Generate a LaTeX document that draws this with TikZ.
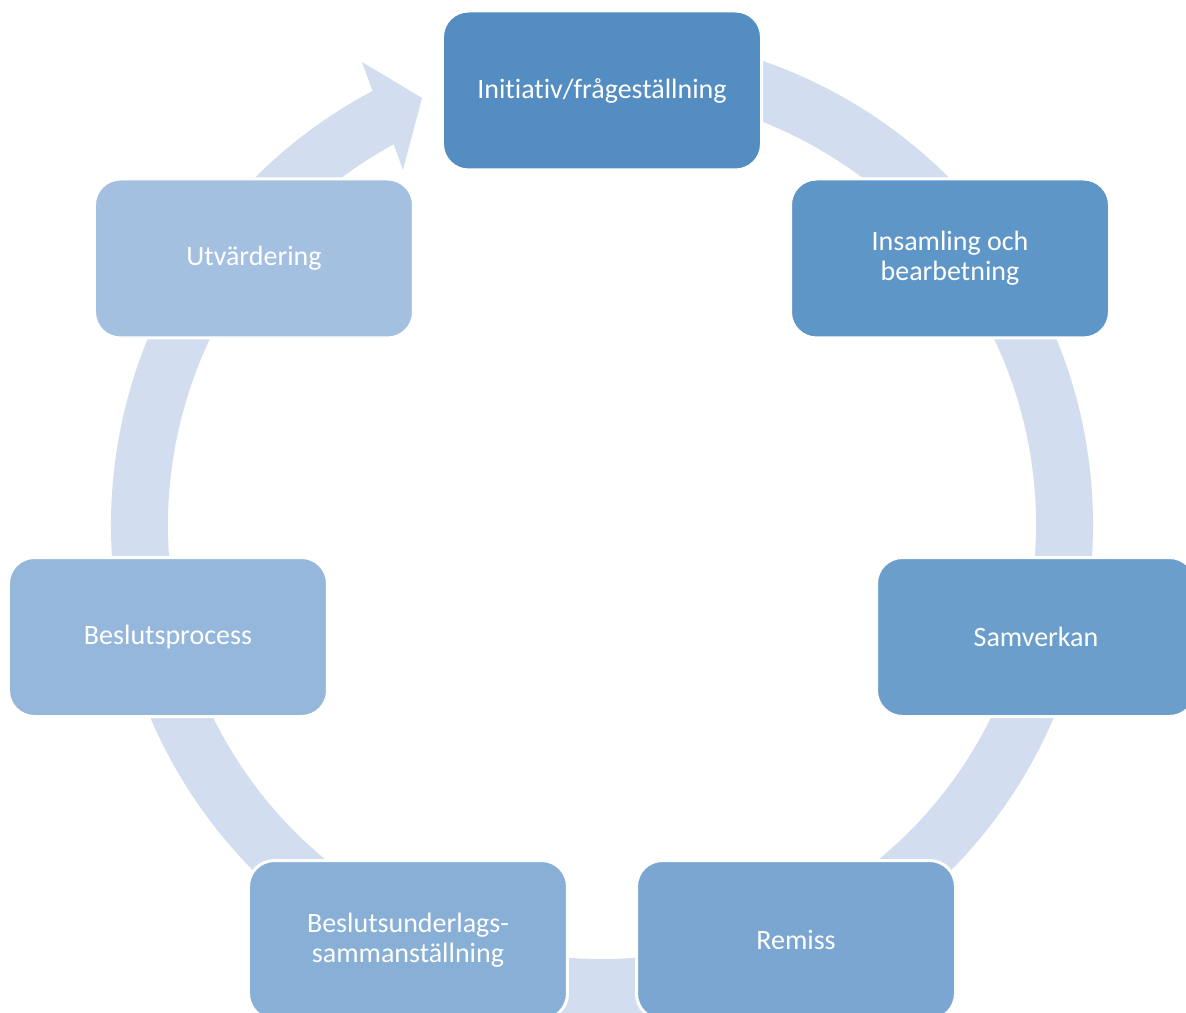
\documentclass[tikz,border=0pt]{standalone}
\usepackage{fontspec}
\setmainfont[Ligatures=CommonOff]{Carlito}
\usepackage{xcolor}
\usepackage{tikz}
\definecolor{ringblue}{RGB}{210,222,239}
\definecolor{phasea}{RGB}{83,141,194}
\definecolor{phaseb}{RGB}{95,150,200}
\definecolor{phasec}{RGB}{108,158,204}
\definecolor{phased}{RGB}{122,166,209}
\definecolor{phasee}{RGB}{136,175,214}
\definecolor{phasef}{RGB}{149,183,219}
\definecolor{phaseg}{RGB}{163,192,225}
\tikzset{%
  phasebox/.style={rectangle,rounded corners=26pt,draw=white,line width=3pt,minimum width=319pt,minimum height=159pt,text=white,align=center,font=\fontsize{28}{30}\selectfont}
}

\begin{document}
\begin{tikzpicture}[x=1pt,y=1pt]
        \path[use as bounding box,clip] (-602,-487) rectangle (584,525);
        % the ring and its arrow head
        \fill[ringblue] (85:491) arc[start angle=85,end angle=-242.13,radius=491]
          -- (-240,463) -- (-180,427) -- (-199,355) -- (-241.32:434)
          arc[start angle=-241.32,end angle=85,radius=434] -- cycle;

        \node[phasebox,fill=phasea](init) at (0,434.5){Initiativ/frågeställning};
        \node[phasebox,fill=phaseb](insaml) at (348,266.5){Insamling och\\bearbetning};
        \node[phasebox,fill=phasec](samverk) at (434,-112){Samverkan};
        \node[phasebox,fill=phased](remiss) at (194,-415){Remiss};
        \node[phasebox,fill=phasee](underlag) at (-194,-415){Beslutsunderlags-\\sammanställning};
        \node[phasebox,fill=phasef](beslut) at (-434,-112){Beslutsprocess};
        \node[phasebox,fill=phaseg](utvard) at (-348,266.5){Utvärdering};
      \end{tikzpicture}
\end{document}
